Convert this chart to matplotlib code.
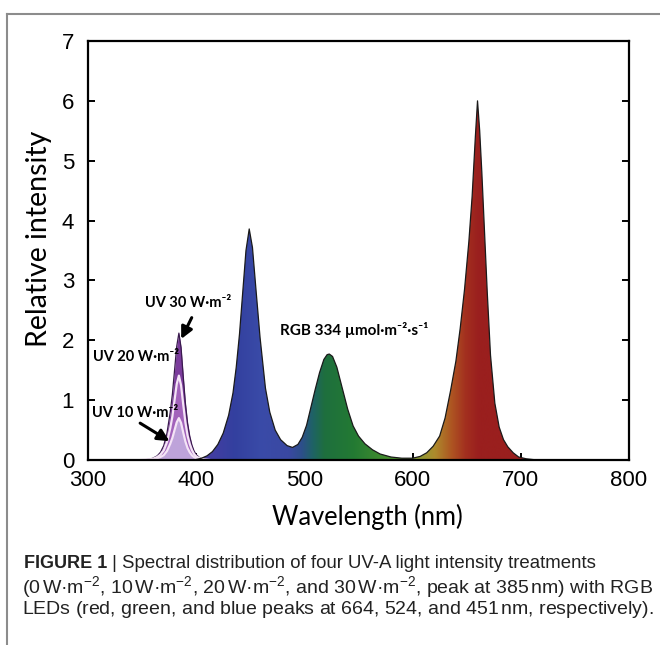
import numpy as np
import matplotlib
matplotlib.use("Agg")
import matplotlib.pyplot as plt
from matplotlib.patches import Polygon
from matplotlib.lines import Line2D

plt.rcParams["mathtext.fontset"] = "custom"
plt.rcParams["mathtext.rm"] = "Liberation Sans"
plt.rcParams["mathtext.it"] = "Liberation Sans:italic"
plt.rcParams["mathtext.bf"] = "Liberation Sans:bold"

# ---------------- data ----------------
uv_wl = [350, 356, 360, 364, 367, 370, 373, 376, 378, 380, 382, 384, 386, 388,
         390, 392, 394, 396, 398, 400, 403, 407, 412]
uv30 = [0, 0.01, 0.03, 0.07, 0.13, 0.24, 0.45, 0.8, 1.1, 1.5, 1.9, 2.12, 1.88, 1.4,
        0.95, 0.62, 0.4, 0.25, 0.15, 0.09, 0.04, 0.01, 0]
uv20 = [0, 0.01, 0.02, 0.05, 0.09, 0.16, 0.3, 0.53, 0.73, 1.0, 1.27, 1.41, 1.25, 0.93,
        0.63, 0.41, 0.27, 0.17, 0.1, 0.06, 0.03, 0.01, 0]
uv10 = [0, 0.0, 0.01, 0.03, 0.05, 0.08, 0.15, 0.27, 0.37, 0.5, 0.63, 0.7, 0.62, 0.46,
        0.31, 0.2, 0.13, 0.08, 0.05, 0.03, 0.01, 0, 0]

rgb_wl = [398, 405, 410, 415, 420, 425, 430, 434, 437, 440, 443, 446, 449, 452, 455,
          459, 464, 468, 473, 478, 484, 489, 494, 498, 502, 506, 510, 514, 518, 521,
          523, 526, 530, 535, 540, 545, 550, 556, 563, 570, 580, 590, 600, 607, 613,
          619, 625, 630, 635, 640, 644, 648, 652, 655, 658, 660, 662, 664, 666, 669,
          672, 676, 680, 684, 688, 693, 698, 705, 715]
rgb_int = [0, 0.03, 0.07, 0.14, 0.26, 0.45, 0.75, 1.12, 1.55, 2.1, 2.8, 3.5, 3.86, 3.55, 2.9,
           2.05, 1.2, 0.8, 0.5, 0.34, 0.24, 0.21, 0.26, 0.38, 0.58, 0.88, 1.18, 1.46, 1.68, 1.76,
           1.77, 1.73, 1.55, 1.2, 0.85, 0.57, 0.4, 0.27, 0.17, 0.1, 0.05, 0.03, 0.03, 0.06, 0.12,
           0.23, 0.4, 0.7, 1.15, 1.65, 2.2, 2.85, 3.65, 4.4, 5.4, 6.0, 5.5, 4.8, 4.0, 2.8,
           1.75, 0.95, 0.55, 0.34, 0.22, 0.12, 0.05, 0.02, 0]

x_ticks = [300, 400, 500, 600, 700, 800]
y_ticks = [0, 1, 2, 3, 4, 5, 6, 7]

x_label = "Wavelength (nm)"
y_label = "Relative intensity"
uv_labels = ["UV 30 W·m⁻²", "UV 20 W·m⁻²", "UV 10 W·m⁻²"]
rgb_label = "RGB 334 µmol·m⁻²·s⁻¹"
cap_bold = "FIGURE 1"
cap_l1 = " | Spectral distribution of four UV-A light intensity treatments"
cap_l2 = (r"(0$\,$W·m$^{-2}$, 10$\,$W·m$^{-2}$, 20$\,$W·m$^{-2}$, and 30$\,$W·m$^{-2}$, "
          r"peak at 385$\,$nm) with RGB")
cap_l3 = r"LEDs (red, green, and blue peaks at 664, 524, and 451$\,$nm, respectively)."

# gradient colour stops along wavelength (styling)
grad_stops = [395, 415, 435, 460, 485, 497, 507, 518, 545, 585, 605, 620, 635, 648, 660, 725]
grad_cols = ["#503a9e", "#423ea2", "#33409f", "#3a4ba8", "#3a48a2", "#2d4f8a", "#1f6266",
             "#1e6f3e", "#237a33", "#4f942c", "#8f9c35", "#ad8a2c", "#ae5622", "#a3301f",
             "#9a1f1e", "#9a1f1e"]

# ---------------- figure ----------------
fig = plt.figure(figsize=(6.6, 6.45), dpi=100)
ax = fig.add_axes([88 / 660, 1 - 460 / 645, (629 - 88) / 660, (460 - 41) / 645])

# UV layers
ax.fill_between(uv_wl, uv30, 0, color="#7b3c9c", lw=0, zorder=3)
ax.fill_between(uv_wl, uv20, 0, color="#a263bb", lw=0, zorder=4)
ax.fill_between(uv_wl, uv10, 0, color="#bea3da", lw=0, zorder=5)
ax.plot(uv_wl, uv30, color="#3a1a4e", lw=0.9, zorder=6)
ax.plot(uv_wl, uv20, color="#f4e4f6", lw=1.6, zorder=6)
ax.plot(uv_wl, uv10, color="#f4e4f6", lw=1.6, zorder=6)

# RGB gradient fill
def hex2rgb(h):
    h = h.lstrip("#")
    return [int(h[i:i + 2], 16) / 255 for i in (0, 2, 4)]

cols = np.array([hex2rgb(c) for c in grad_cols])
gx = np.linspace(395, 725, 900)
img = np.stack([np.interp(gx, grad_stops, cols[:, k]) for k in range(3)], axis=-1)
img = img[np.newaxis, :, :]
verts = np.column_stack([np.r_[rgb_wl, rgb_wl[::-1]],
                         np.r_[rgb_int, np.zeros(len(rgb_wl))]])
poly = Polygon(verts, closed=True, facecolor="none", edgecolor="none", transform=ax.transData)
ax.add_patch(poly)
im = ax.imshow(img, extent=[395, 725, 0, 7], aspect="auto", origin="lower",
               interpolation="bilinear", zorder=2)
im.set_clip_path(poly)
ax.plot(rgb_wl, rgb_int, color="#1a1a1a", lw=0.9, zorder=6)

ax.set_xlim(300, 800)
ax.set_ylim(0, 7)
ax.set_aspect("auto")

for s in ax.spines.values():
    s.set_linewidth(1.6)
    s.set_zorder(8)
ax.set_xticks(x_ticks)
ax.set_yticks(y_ticks)
ax.tick_params(axis="both", direction="in", length=5, width=1.4, labelsize=16,
               right=True, top=False)
ax.tick_params(axis="y", pad=10)
ax.tick_params(axis="x", pad=7)
for lab in ax.get_xticklabels() + ax.get_yticklabels():
    lab.set_fontfamily("Liberation Sans")

ax.set_xlabel(x_label, fontsize=18.4, family="Lato")
ax.xaxis.set_label_coords(0.516, -0.105)
ax.set_ylabel(y_label, fontsize=20.5, family="Lato")
ax.yaxis.set_label_coords(-0.066, 0.527)

fam = ["Lato", "DejaVu Sans"]
ax.text(352.7, 2.62, uv_labels[0], fontsize=10.5, fontweight="bold", family=fam,
        va="center", ha="left", zorder=9)
ax.text(304.6, 1.72, uv_labels[1], fontsize=10.5, fontweight="bold", family=fam,
        va="center", ha="left", zorder=9)
ax.text(303.7, 0.78, uv_labels[2], fontsize=10.5, fontweight="bold", family=fam,
        va="center", ha="left", zorder=9)
ax.text(477.5, 2.17, rgb_label, fontsize=11, fontweight="bold", family=fam,
        va="center", ha="left", zorder=9)

arrow_kw = dict(arrowstyle="-|>,head_length=0.7,head_width=0.35", color="black", lw=2.2)
ax.annotate("", xy=(385, 1.98), xytext=(397, 2.42), arrowprops=arrow_kw, zorder=9)
ax.annotate("", xy=(377.5, 0.29), xytext=(346, 0.64), arrowprops=arrow_kw, zorder=9)

# frame lines of the figure panel
fig.add_artist(Line2D([7 / 660, 7 / 660], [0, 1 - 14 / 645], transform=fig.transFigure,
                      color="#8c8c8c", lw=1.5))
fig.add_artist(Line2D([7 / 660, 1], [1 - 14 / 645, 1 - 14 / 645], transform=fig.transFigure,
                      color="#8c8c8c", lw=1.5))

# caption
cfam = ["Liberation Sans Narrow", "Liberation Sans", "DejaVu Sans"]
csize = 14.0
t1 = fig.text(24 / 660, 1 - 563 / 645, cap_bold, fontsize=13, fontweight="bold",
              family=cfam, va="center", ha="left", color="#222222")
plt.annotate(cap_l1, xy=(1, 0), xycoords=t1, va="bottom", ha="left",
             fontsize=13.4, family=cfam, color="#222222")
fig.text(22 / 660, 1 - 587 / 645, cap_l2, fontsize=csize, family=cfam, va="center",
         ha="left", color="#222222")
fig.text(22 / 660, 1 - 610 / 645, cap_l3, fontsize=csize, family=cfam, va="center",
         ha="left", color="#222222")

fig.savefig("out.png", dpi=100)
